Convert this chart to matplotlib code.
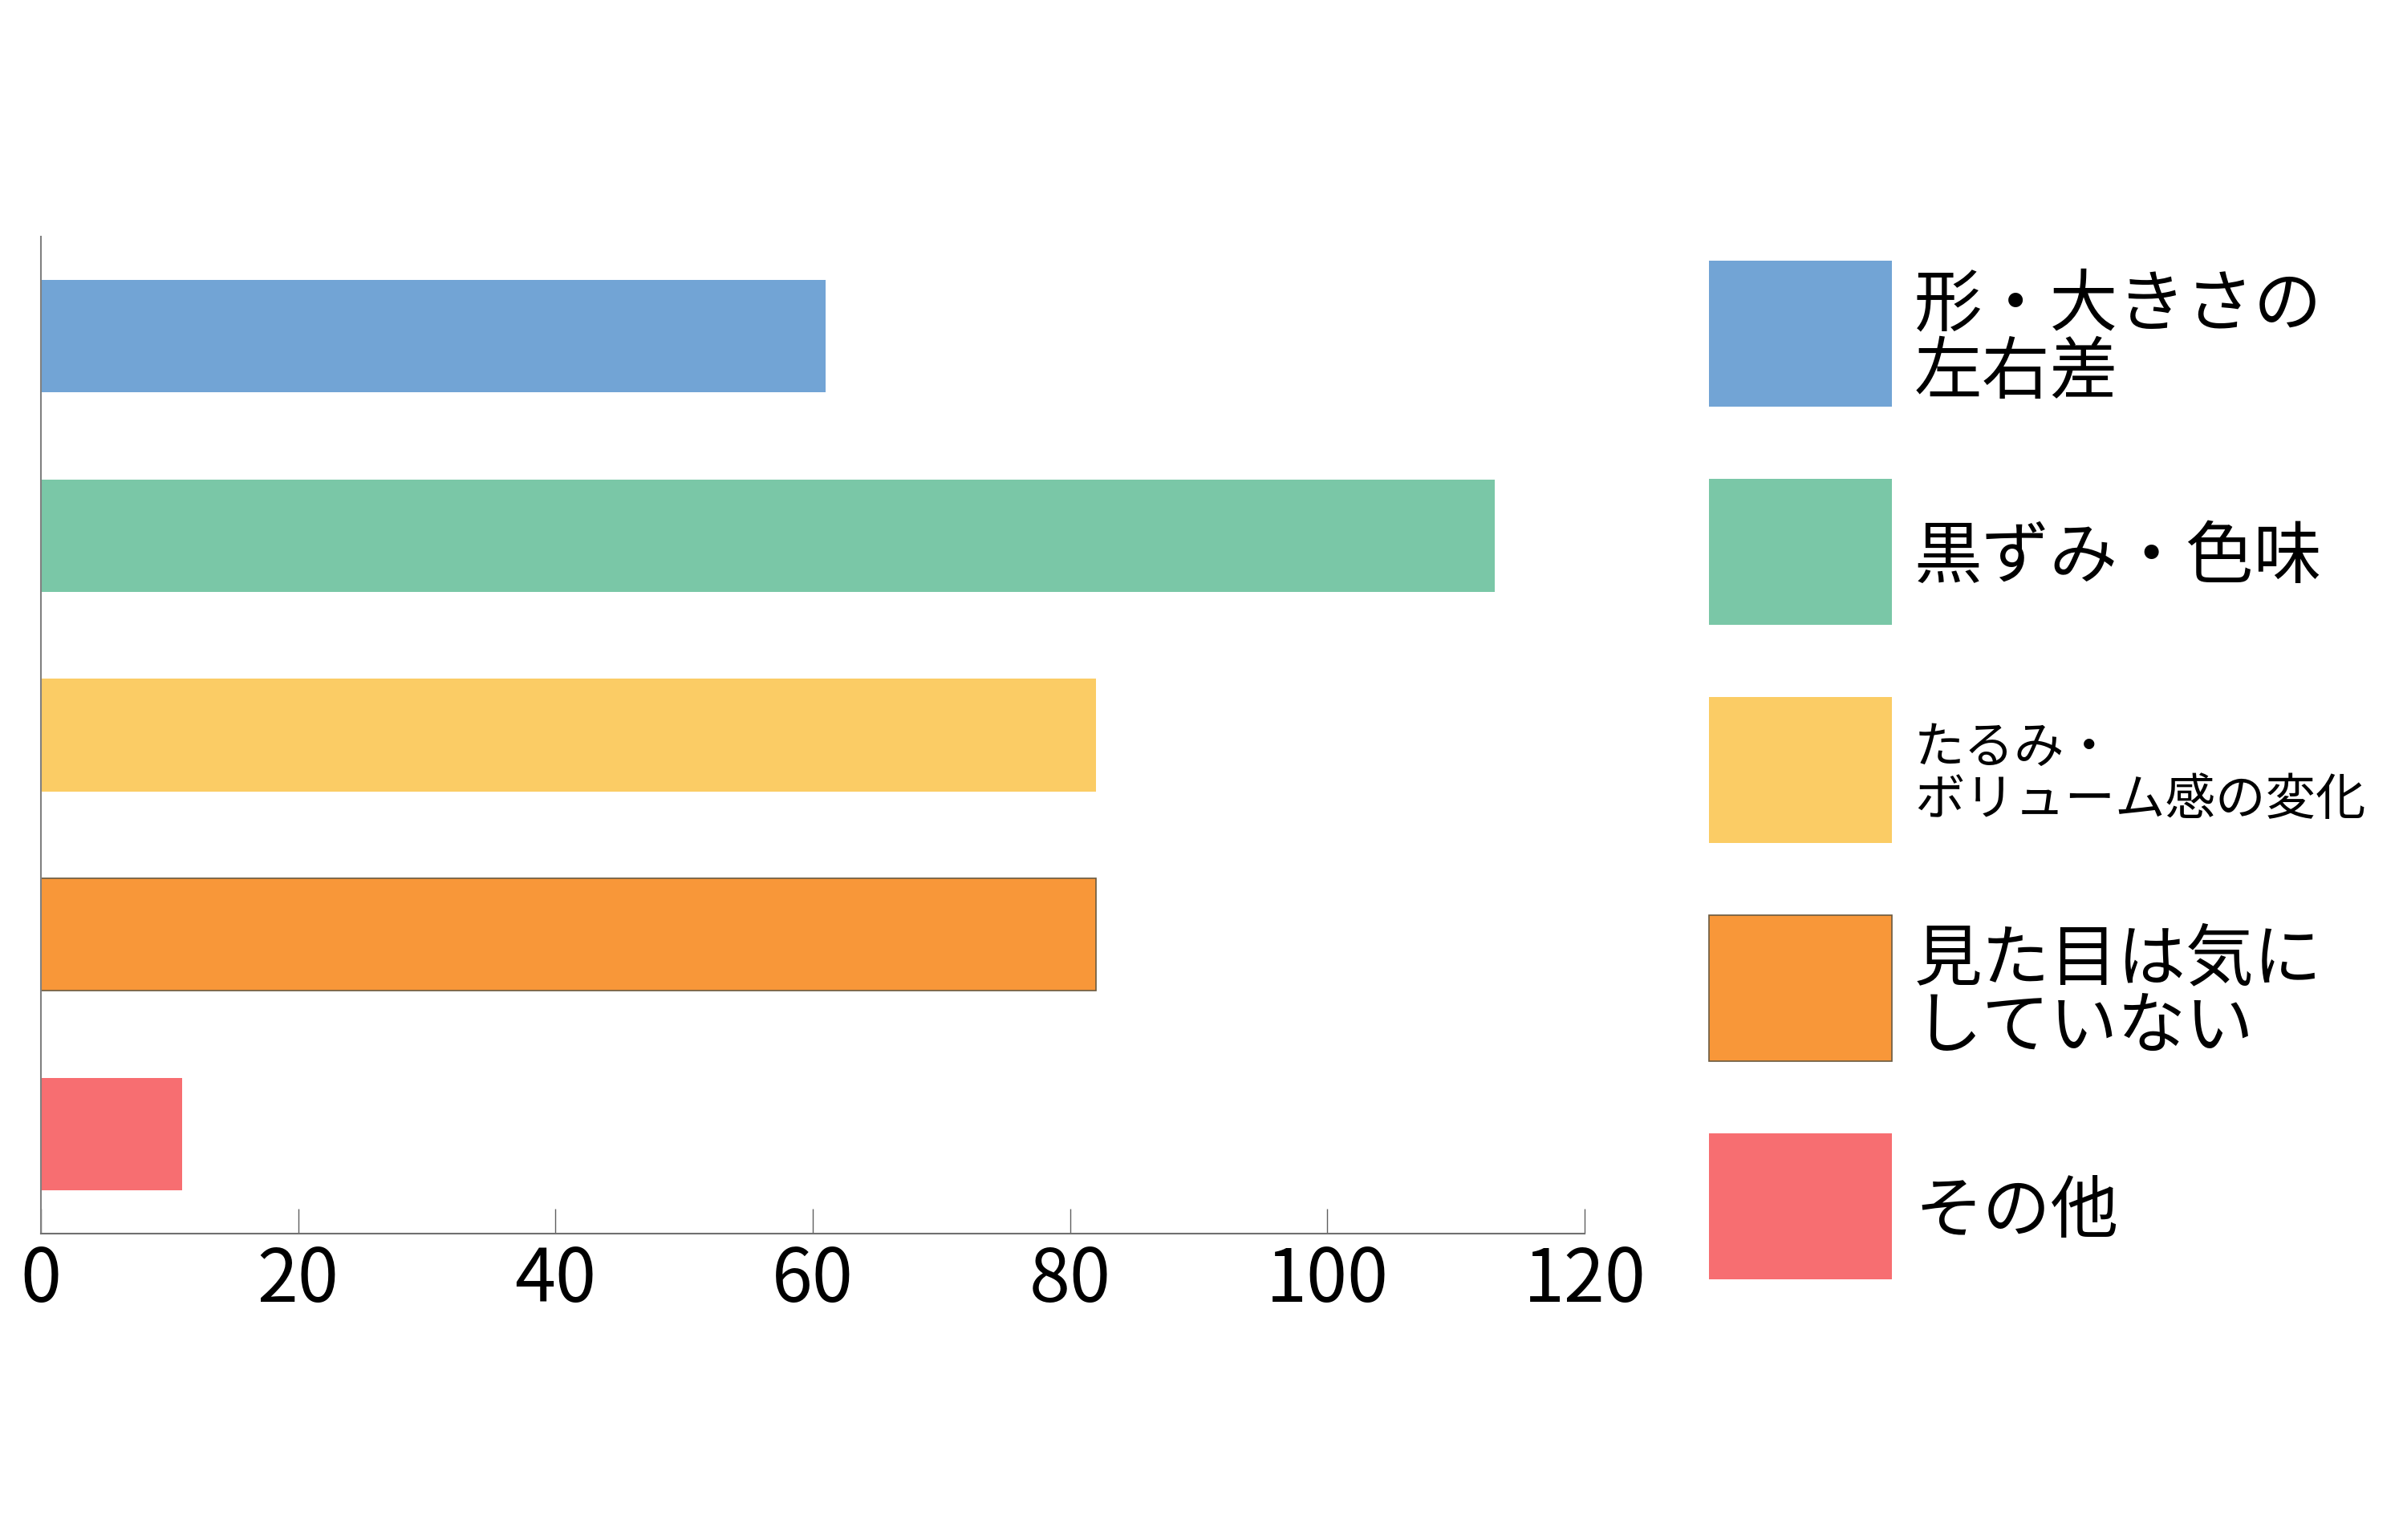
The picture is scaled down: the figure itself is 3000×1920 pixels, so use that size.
import matplotlib
matplotlib.use("Agg")
import matplotlib.pyplot as plt
from matplotlib.patches import Rectangle

plt.rcParams['font.family'] = ['Noto Sans CJK JP', 'DejaVu Sans']

categories = ["形・大きさの\n左右差", "黒ずみ・色味", "たるみ・\nボリューム感の変化",
              "見た目は気に\nしていない", "その他"]
values = [61, 113, 82, 82, 11]
colors = ["#72A4D5", "#7AC7A7", "#FBCC65", "#F89739", "#F76E71"]
edges = ["none", "none", "none", "#6B5A40", "none"]
label_sizes = [61, 61, 45, 61, 61]
xticks = [0, 20, 40, 60, 80, 100, 120]

W, H = 3000, 1920
fig = plt.figure(figsize=(W/100, H/100), dpi=100)
ax = fig.add_axes([51/W, 1-1538/H, (1975-51)/W, (1538-295)/H])

for i, (v, col, ec) in enumerate(zip(values, colors, edges)):
    ax.barh(i, v, height=0.5634, color=col, edgecolor=ec,
            linewidth=1.2 if ec != "none" else 0)

ax.set_ylim(4.5, -0.5)
ax.set_xlim(0, 120)
ax.set_xticks(xticks)
ax.set_xticklabels([str(t) for t in xticks])
ax.set_yticks([])
for s in ["top", "right"]:
    ax.spines[s].set_visible(False)
ax.spines["left"].set_color("#808080")
ax.spines["left"].set_linewidth(1.5)
ax.spines["bottom"].set_color("#707070")
ax.spines["bottom"].set_linewidth(1.5)
ax.tick_params(axis="x", direction="in", length=22, width=1, color="#606060",
               labelsize=66, pad=9, labelcolor="black")

# legend (manual swatches + labels)
sw_x, sw_w, sw_h, top0, pitch = 2130, 228, 182, 325, 272
for i, (lab, col, ec, fs) in enumerate(zip(categories, colors, edges, label_sizes)):
    top = top0 + i*pitch
    fig.add_artist(Rectangle((sw_x/W, 1-(top+sw_h)/H), sw_w/W, sw_h/H,
                             transform=fig.transFigure, facecolor=col,
                             edgecolor=ec, linewidth=1.2 if ec != "none" else 0))
    em = fs*100/72
    yc = top + sw_h/2 + 0.09*em
    fig.text(2386/W, 1-yc/H, lab, fontsize=fs, va="center", ha="left",
             linespacing=0.98 if fs > 50 else 1.02, color="black")

fig.savefig("out.png", dpi=100, facecolor="white")
